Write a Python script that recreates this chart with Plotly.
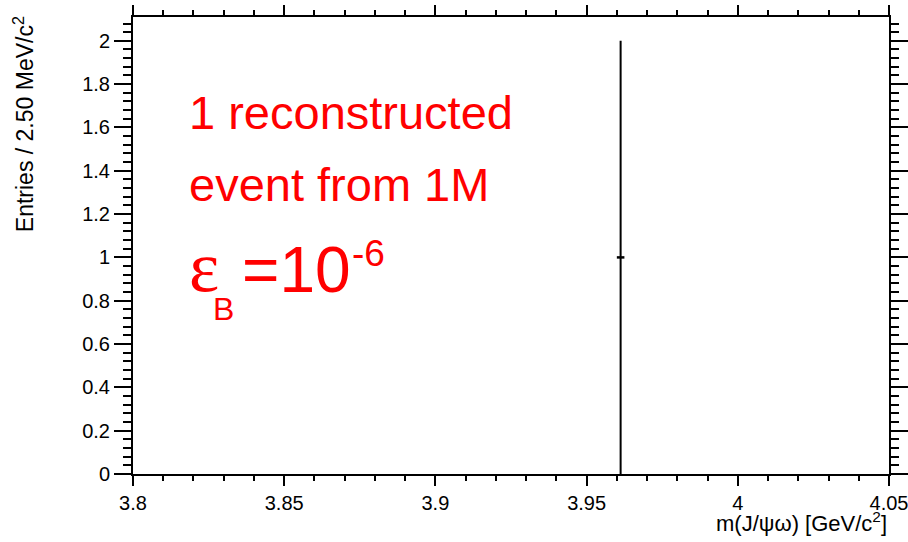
import plotly.graph_objects as go

# Histogram content: one reconstructed candidate, 2.5 MeV bins
bin_low_edges = [3.96]
bin_width = 0.0025
entries = [1]
entry_errors = [1.0]          # Poisson sqrt(N)

x_ticks = [3.8, 3.85, 3.9, 3.95, 4.0, 4.05]
y_ticks = [0, 0.2, 0.4, 0.6, 0.8, 1.0, 1.2, 1.4, 1.6, 1.8, 2.0]

bin_centers = [lo + bin_width / 2 for lo in bin_low_edges]

FONT = "Liberation Sans, Arial, Helvetica, sans-serif"
SERIF = "Liberation Serif, Times New Roman, serif"
RED = "#ff0000"

fig = go.Figure()
fig.add_trace(go.Scatter(
    x=bin_centers,
    y=entries,
    mode="markers",
    marker=dict(size=1, color="black"),
    error_y=dict(type="data", array=entry_errors, color="black", thickness=2, width=0),
    error_x=dict(type="data", array=[bin_width / 2] * len(bin_centers),
                 color="black", thickness=2.5, width=0),
    showlegend=False,
    cliponaxis=False,
))

axis_common = dict(
    showline=True, linecolor="black", linewidth=2,
    mirror="ticks", ticks="outside", tickcolor="black", tickwidth=2,
    showgrid=False, zeroline=False, automargin=False,
    ticklabeloverflow="allow",
    tickfont=dict(family=FONT, size=20, color="black"),
)

fig.update_xaxes(
    range=[3.8, 4.05], tickmode="array", tickvals=x_ticks,
    ticktext=[f"{v:g}" for v in x_ticks], ticklen=10,
    minor=dict(dtick=0.01, tick0=3.8, ticklen=5, tickwidth=2,
               tickcolor="black", ticks="outside"),
    **axis_common,
)
fig.update_yaxes(
    range=[0, 2.11], tickmode="array", tickvals=y_ticks,
    ticktext=[f"{v:g}" for v in y_ticks], ticklen=17,
    minor=dict(dtick=0.04, tick0=0, ticklen=8, tickwidth=2,
               tickcolor="black", ticks="outside"),
    **axis_common,
)

annotations = [
    # axis titles
    dict(text="Entries / 2.50 MeV/c<sup>2</sup>", textangle=-90,
         x=-0.145, y=1.007, xanchor="center", yanchor="top",
         font=dict(family=FONT, size=23, color="black")),
    dict(text="m(J/ψω) [GeV/c<sup>2</sup>]",
         x=1.0, y=-0.105, xanchor="right", yanchor="middle",
         font=dict(family=FONT, size=22, color="black")),
    # red labels
    dict(text="1 reconstructed", x=0.072, y=0.790, xanchor="left", yanchor="middle",
         font=dict(family=FONT, size=47, color=RED)),
    dict(text="event from 1M", x=0.072, y=0.634, xanchor="left", yanchor="middle",
         font=dict(family=FONT, size=47, color=RED)),
    dict(text="ε", x=0.071, y=0.452, xanchor="left", yanchor="middle",
         font=dict(family=SERIF, size=72, color=RED)),
    dict(text="B", x=0.103, y=0.362, xanchor="left", yanchor="middle",
         font=dict(family=FONT, size=32, color=RED)),
    dict(text="=10", x=0.141, y=0.447, xanchor="left", yanchor="middle",
         font=dict(family=FONT, size=64, color=RED)),
    dict(text="-6", x=0.287, y=0.482, xanchor="left", yanchor="middle",
         font=dict(family=FONT, size=37, color=RED)),
]
for a in annotations:
    a.update(xref="paper", yref="paper", showarrow=False)

fig.update_layout(
    width=908, height=542,
    margin=dict(l=133, r=19, t=17, b=68),
    paper_bgcolor="white", plot_bgcolor="white",
    annotations=annotations,
    font=dict(family=FONT),
)

fig.write_html("out.html")
